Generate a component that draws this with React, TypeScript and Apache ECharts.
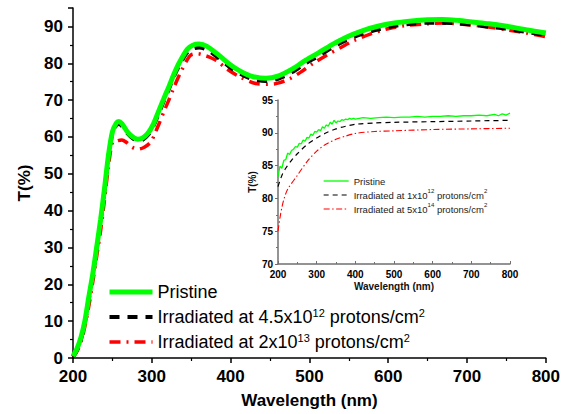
import React, { useEffect, useRef } from "react";
import * as echarts from "echarts";

const FONT = 'Arial, "Liberation Sans", Helvetica, sans-serif';

// ---- Main chart data: [wavelength (nm), T (%)] ----
const mainPristine: number[][] = [
  [200, 0.5], [205, 2.5], [210, 5.5], [215, 10], [220, 16.5], [225, 22.7], [230, 30], [235, 37.5],
  [240, 46], [245, 55], [250, 61.4], [255, 63.8], [258, 64.2], [262, 63.6], [269, 61.4], [276, 60],
  [282, 59.4], [288, 59.7], [295, 61], [302, 63.5], [310, 67.7], [316, 70.8], [322, 73.8], [328, 77],
  [335, 80.2], [345, 83.8], [352, 84.9], [360, 85.2], [370, 84.6], [385, 82.2], [400, 79.5], [411, 78],
  [425, 76.6], [445, 75.9], [460, 76.5], [478, 78.4], [495, 80.8], [512, 82.9], [530, 85.2], [546, 87],
  [567, 88.8], [588, 90.1], [610, 91], [630, 91.5], [650, 91.8], [668, 91.9], [690, 91.6], [706, 91.2],
  [728, 90.7], [748, 90.1], [775, 89.1], [800, 88.2],
];
const mainIrr45e12: number[][] = [
  [200, 0.3], [205, 2.2], [210, 5], [215, 9.5], [220, 16], [225, 22.2], [230, 29.5], [235, 37],
  [240, 45.5], [245, 54.5], [250, 61], [255, 63.2], [258, 63.5], [262, 63], [269, 61], [276, 59.6],
  [282, 59], [288, 59.2], [295, 60.5], [302, 63], [310, 67], [316, 70.2], [322, 73.2], [328, 76.4],
  [335, 79.5], [345, 83], [352, 84], [360, 84.3], [370, 83.7], [385, 81.4], [400, 78.8], [411, 77.3],
  [425, 75.9], [445, 75.2], [460, 75.8], [478, 77.6], [495, 80], [512, 82], [530, 84.4], [546, 86.2],
  [567, 88], [588, 89.2], [610, 90.2], [630, 90.7], [650, 91], [668, 91], [690, 90.8], [706, 90.5],
  [728, 89.9], [748, 89.4], [775, 88.5], [800, 87.6],
];
const mainIrr2e13: number[][] = [
  [200, 0.3], [205, 1.8], [210, 4.3], [215, 8.5], [220, 14], [225, 20.5], [230, 27.5], [235, 34.5],
  [240, 43], [245, 52], [250, 58.5], [255, 58.9], [262, 59.2], [268, 58.5], [275, 57.2], [283, 56.7],
  [291, 57.3], [299, 58.7], [305, 61.5], [310, 64], [316, 67.2], [322, 70.2], [328, 73.4], [335, 76.8],
  [345, 81], [350, 82.3], [358, 82.6], [366, 82.2], [375, 81.5], [383, 80.6], [395, 78.5], [411, 76.4],
  [432, 74.5], [448, 74.3], [460, 74.6], [475, 75.8], [489, 77.6], [505, 80], [522, 82.2], [540, 84.3],
  [556, 86.1], [578, 88], [598, 89.3], [620, 90.2], [649, 90.7], [670, 90.9], [683, 90.8], [705, 90.4],
  [725, 89.9], [750, 89.1], [775, 88.2], [800, 87.2],
];

// ---- Inset data ----
const insetPristine: number[][] = [
  [200, 83.3], [205, 84.9], [210, 84.6], [215, 85.8], [220, 85.9], [225, 86.9], [230, 86.7], [235, 87.3],
  [240, 87.5], [245, 87.9], [250, 87.8], [255, 88.4], [260, 88.3], [265, 88.9], [270, 88.7], [275, 89.3],
  [280, 89.2], [285, 89.8], [290, 89.6], [295, 90.2], [300, 90.1], [305, 90.5], [310, 90.3], [315, 90.9],
  [320, 90.7], [325, 91.2], [330, 91.0], [335, 91.6], [340, 91.3], [345, 91.9], [350, 91.5], [355, 91.8],
  [360, 91.7], [365, 92.0], [370, 91.9], [375, 92.1], [380, 92.0], [385, 92.2], [390, 92.1], [395, 92.2],
  [400, 92.1], [420, 92.3], [440, 92.2], [460, 92.3], [480, 92.4], [500, 92.3], [520, 92.4], [540, 92.4],
  [560, 92.5], [580, 92.4], [600, 92.5], [620, 92.5], [640, 92.6], [660, 92.5], [680, 92.6], [700, 92.6],
  [720, 92.7], [740, 92.6], [760, 92.8], [770, 92.6], [780, 92.9], [790, 92.7], [800, 93.0],
];
const insetIrr1e12: number[][] = [
  [200, 81.8], [210, 83.5], [220, 84.6], [235, 85.8], [250, 86.8], [275, 88.2], [300, 89.2], [325, 90.0],
  [350, 90.6], [375, 91.0], [400, 91.3], [450, 91.5], [500, 91.6], [600, 91.7], [700, 91.8], [800, 91.9],
];
const insetIrr5e14: number[][] = [
  [200, 75.0], [205, 77.0], [210, 78.6], [215, 79.8], [225, 81.4], [250, 83.5], [275, 85.6], [300, 87.2],
  [325, 88.3], [350, 89.0], [375, 89.5], [400, 89.9], [450, 90.2], [500, 90.3], [600, 90.5], [700, 90.6],
  [800, 90.7],
];

const mainNames = [
  "Pristine",
  "Irradiated at 4.5x10^12 protons/cm^2",
  "Irradiated at 2x10^13 protons/cm^2",
];
const insetNames = [
  "Pristine ",
  "Irradiated at 1x10^12 protons/cm^2",
  "Irradiated at 5x10^14 protons/cm^2",
];
const legendText: Record<string, string> = {
  "Pristine": "Pristine",
  "Irradiated at 4.5x10^12 protons/cm^2": "Irradiated at 4.5x10{sup|12} protons/cm{sup|2}",
  "Irradiated at 2x10^13 protons/cm^2": "Irradiated at 2x10{sup|13} protons/cm{sup|2}",
  "Pristine ": "Pristine",
  "Irradiated at 1x10^12 protons/cm^2": "Irradiated at 1x10{sup|12} protons/cm{sup|2}",
  "Irradiated at 5x10^14 protons/cm^2": "Irradiated at 5x10{sup|14} protons/cm{sup|2}",
};

const mainX = [200, 800, 100];
const mainY = [0, 95, 10];
const insetX = [200, 800, 100];
const insetY = [70, 95, 5];

const GREEN = "#00ff00";
const BLACK = "#000000";
const RED = "#ff0000";

export default function App() {
  const ref = useRef<HTMLDivElement>(null);
  useEffect(() => {
    if (!ref.current) return;
    const chart = echarts.init(ref.current, undefined, { renderer: "svg" });

    const mainStyles = [
      { color: GREEN, width: 5, type: "solid" as any },
      { color: BLACK, width: 4, type: [10, 8] as any },
      { color: RED, width: 3.5, type: [11, 6, 2, 6] as any },
    ];
    const insetStyles = [
      { color: GREEN, width: 1.3, type: "solid" as any },
      { color: BLACK, width: 1.2, type: [5, 4] as any },
      { color: RED, width: 1.1, type: [6, 2.5, 1.5, 2.5] as any },
    ];
    const mainData = [mainPristine, mainIrr45e12, mainIrr2e13];
    const insetData = [insetPristine, insetIrr1e12, insetIrr5e14];

    const series: any[] = [];
    mainData.forEach((d, i) => {
      series.push({
        type: "line",
        name: mainNames[i],
        xAxisIndex: 0,
        yAxisIndex: 0,
        data: d,
        showSymbol: false,
        symbol: "none",
        smooth: 0.3,
        z: 5 - i,
        lineStyle: { ...mainStyles[i], cap: "butt" },
        itemStyle: { color: mainStyles[i].color },
      });
    });
    insetData.forEach((d, i) => {
      series.push({
        type: "line",
        name: insetNames[i],
        xAxisIndex: 1,
        yAxisIndex: 1,
        data: d,
        showSymbol: false,
        symbol: "none",
        smooth: i === 0 ? false : 0.3,
        lineStyle: { ...insetStyles[i] },
        itemStyle: { color: insetStyles[i].color },
      });
    });

    const boldLabel = (size: number, margin: number) => ({
      fontFamily: FONT,
      fontWeight: "bold" as any,
      fontSize: size,
      color: "#000",
      margin,
    });

    const hiddenSymbol = { color: "rgba(0,0,0,0)", borderWidth: 0, opacity: 0 };

    const option: any = {
      animation: false,
      backgroundColor: "#fff",
      grid: [
        { left: 73, right: 15, top: 8, bottom: 53 },
        { left: 278, right: 53, top: 100, bottom: 150 },
      ],
      xAxis: [
        {
          type: "value",
          gridIndex: 0,
          min: mainX[0],
          max: mainX[1],
          interval: mainX[2],
          name: "Wavelength (nm)",
          nameLocation: "middle",
          nameGap: 34,
          nameTextStyle: { fontFamily: FONT, fontWeight: "bold", fontSize: 17, color: "#000" },
          axisLine: { show: true, onZero: false, lineStyle: { color: "#000", width: 1.5 } },
          axisTick: { show: true, length: 5, lineStyle: { color: "#000", width: 1.5 } },
          minorTick: { show: true, splitNumber: 2, length: 3, lineStyle: { color: "#000", width: 1.2 } },
          splitLine: { show: false },
          minorSplitLine: { show: false },
          axisLabel: boldLabel(17, 10),
        },
        {
          type: "value",
          gridIndex: 1,
          min: insetX[0],
          max: insetX[1],
          interval: insetX[2],
          name: "Wavelength (nm)",
          nameLocation: "middle",
          nameGap: 17,
          nameTextStyle: { fontFamily: FONT, fontWeight: "bold", fontSize: 10, color: "#111" },
          axisLine: { show: true, onZero: false, lineStyle: { color: "#707070", width: 1.5 } },
          axisTick: { show: true, inside: true, length: 3, lineStyle: { color: "#707070", width: 1 } },
          minorTick: { show: true, splitNumber: 2, length: 2, lineStyle: { color: "#707070", width: 1 } },
          splitLine: { show: false },
          axisLabel: boldLabel(10, 5),
        },
      ],
      yAxis: [
        {
          type: "value",
          gridIndex: 0,
          min: mainY[0],
          max: mainY[1],
          interval: mainY[2],
          name: "T(%)",
          nameLocation: "middle",
          nameGap: 40,
          nameTextStyle: { fontFamily: FONT, fontWeight: "bold", fontSize: 17, color: "#000" },
          axisLine: { show: true, onZero: false, lineStyle: { color: "#000", width: 1.5 } },
          axisTick: { show: true, length: 5, lineStyle: { color: "#000", width: 1.5 } },
          minorTick: { show: true, splitNumber: 2, length: 3, lineStyle: { color: "#000", width: 1.2 } },
          splitLine: { show: false },
          axisLabel: { ...boldLabel(17, 10), showMaxLabel: false },
        },
        {
          type: "value",
          gridIndex: 1,
          min: insetY[0],
          max: insetY[1],
          interval: insetY[2],
          name: "T(%)",
          nameLocation: "middle",
          nameGap: 18,
          nameTextStyle: { fontFamily: FONT, fontWeight: "bold", fontSize: 10, color: "#111" },
          axisLine: { show: true, onZero: false, lineStyle: { color: "#707070", width: 1.5 } },
          axisTick: { show: true, length: 3, lineStyle: { color: "#707070", width: 1 } },
          minorTick: { show: true, splitNumber: 2, length: 2, lineStyle: { color: "#707070", width: 1 } },
          splitLine: { show: false },
          axisLabel: boldLabel(10, 5),
        },
      ],
      legend: [
        {
          orient: "vertical",
          left: 107,
          top: 282,
          padding: 0,
          itemWidth: 43,
          itemHeight: 12,
          itemGap: 5,
          selectedMode: false,
          formatter: (n: string) => legendText[n] || n,
          data: mainNames.map((n, i) => ({
            name: n,
            lineStyle: { color: mainStyles[i].color, width: mainStyles[i].width, type: mainStyles[i].type },
            itemStyle: hiddenSymbol,
          })),
          textStyle: {
            fontFamily: FONT,
            fontSize: 18,
            color: "#000",
            lineHeight: 20,
            rich: {
              sup: { fontFamily: FONT, fontSize: 11, color: "#000", verticalAlign: "top", lineHeight: 10 },
            },
          },
        },
        {
          orient: "vertical",
          left: 323,
          top: 174,
          padding: 0,
          itemWidth: 25,
          itemHeight: 8,
          itemGap: 0,
          selectedMode: false,
          formatter: (n: string) => legendText[n] || n,
          data: insetNames.map((n, i) => ({
            name: n,
            lineStyle: { color: insetStyles[i].color, width: insetStyles[i].width, type: insetStyles[i].type },
            itemStyle: hiddenSymbol,
          })),
          textStyle: {
            fontFamily: FONT,
            fontSize: 9.5,
            color: "#222",
            lineHeight: 14,
            rich: {
              sup: { fontFamily: FONT, fontSize: 6, color: "#222", verticalAlign: "top", lineHeight: 7 },
            },
          },
        },
      ],
      series,
    };
    chart.setOption(option);
    return () => chart.dispose();
  }, []);
  return (
    <div
      ref={ref}
      style={{ position: "fixed", left: 0, top: 0, width: 563, height: 414 }}
    />
  );
}
